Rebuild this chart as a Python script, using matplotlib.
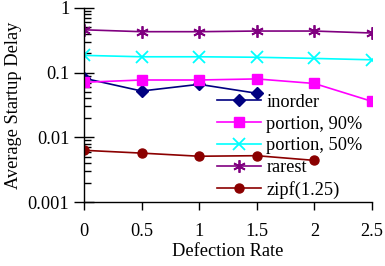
import numpy as np
import matplotlib
matplotlib.use("Agg")
import matplotlib.pyplot as plt
from matplotlib.ticker import LogLocator, NullFormatter

plt.rcParams['font.family'] = ['Liberation Serif', 'DejaVu Serif']

# defection rates
rates = [0, 0.5, 1, 1.5, 2, 2.5]

# average startup delay per strategy
inorder = [0.082, 0.052, 0.066, 0.048]
portion90 = [0.071, 0.077, 0.077, 0.080, 0.068, 0.036]
portion50 = [0.185, 0.176, 0.176, 0.173, 0.166, 0.158]
rarest = [0.46, 0.43, 0.43, 0.44, 0.44, 0.41]
zipf = [0.0063, 0.0057, 0.0051, 0.0052, 0.0044]

yticks = [0.001, 0.01, 0.1, 1]
ytick_labels = ["0.001", "0.01", "0.1", "1"]
xtick_labels = ["0", "0.5", "1", "1.5", "2", "2.5"]

fig = plt.figure(figsize=(3.85, 2.66), dpi=100)
ax = fig.add_axes([0.218, 0.2406, 0.748, 0.7294])

lw = 1.2
ax.plot(rates[:len(inorder)], inorder, color="#000080", marker="D", ms=6.5, lw=lw, label="inorder")
ax.plot(rates, portion90, color="#ff00ff", marker="s", ms=6.5, lw=lw, label="portion, 90%")
ax.plot(rates, portion50, color="#00ffff", marker="x", ms=8, mew=1.3, lw=lw, label="portion, 50%")
ax.plot(rates, rarest, color="#800080", marker=(6, 2, 0), ms=9, mew=1.3, lw=lw, label="rarest")
ax.plot(rates[:len(zipf)], zipf, color="#8b0000", marker="o", ms=6.5, lw=lw, label="zipf(1.25)")

ax.set_yscale("log")
ax.set_xlim(0, 2.5)
ax.set_ylim(0.001, 1)
ax.set_yticks(yticks)
ax.set_yticklabels(ytick_labels)
ax.yaxis.set_minor_locator(LogLocator(base=10, subs=np.arange(2, 10)))
ax.yaxis.set_minor_formatter(NullFormatter())
ax.set_xticks(rates)
ax.set_xticklabels(xtick_labels)

for s in ["top", "right"]:
    ax.spines[s].set_visible(False)
ax.spines["left"].set_linewidth(1.0)
ax.spines["bottom"].set_linewidth(1.0)

ax.tick_params(axis="y", which="major", direction="inout", length=14, width=1.0, pad=3.5, labelsize=13.2)
ax.tick_params(axis="y", which="minor", direction="in", length=5, width=1.0)
ax.tick_params(axis="x", which="major", direction="out", length=6, width=1.0, pad=9, labelsize=13.2)

ax.set_xlabel("Defection Rate", fontsize=13.2, labelpad=2)
ax.set_ylabel("Average Startup Delay", fontsize=13.2, labelpad=4)

ax.legend(loc="upper left", bbox_to_anchor=(0.462, 0.558), frameon=False, fontsize=13.2,
          handlelength=2.4, handletextpad=0.3, labelspacing=0.26, borderpad=0, borderaxespad=0)

fig.savefig("out.png", dpi=100)
